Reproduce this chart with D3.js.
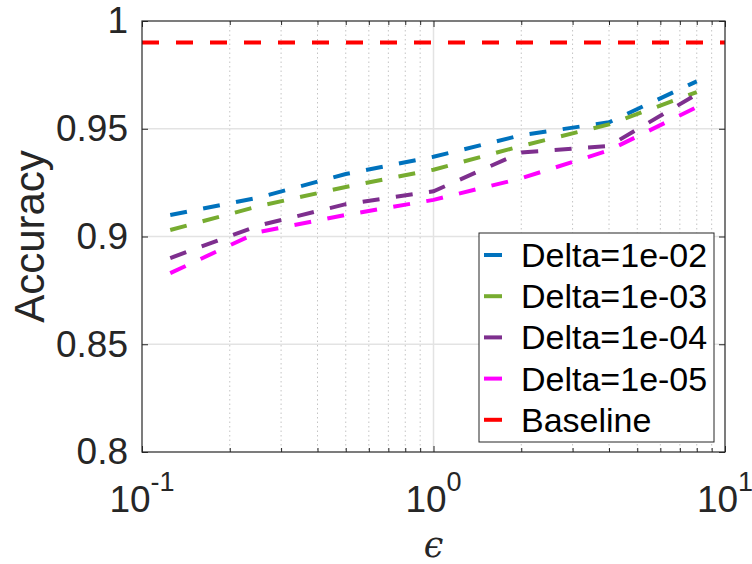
<!DOCTYPE html>
<html lang="en">
  <head>
    <meta charset="UTF-8" />
    <script src="https://d3js.org/d3.v7.min.js"></script>
    <title>Accuracy vs epsilon</title>
    <style>
      body { margin: 0; background: #fff; }
      svg { display: block; font-family: "Liberation Sans", Arial, sans-serif; }
    </style>
  </head>
  <body>
    <div id="chart"></div>
    <script>
      // data
      const epsilons = [0.125, 0.25, 0.5, 1, 2, 4, 8];
      const delta1e02 = [0.910, 0.918, 0.929, 0.937, 0.947, 0.953, 0.972];
      const delta1e03 = [0.903, 0.914, 0.923, 0.931, 0.942, 0.952, 0.967];
      const delta1e04 = [0.890, 0.905, 0.915, 0.921, 0.939, 0.942, 0.966];
      const delta1e05 = [0.883, 0.902, 0.910, 0.917, 0.927, 0.940, 0.960];
      const baseline = 0.99;
      const seriesNames = ["Delta=1e-02", "Delta=1e-03", "Delta=1e-04", "Delta=1e-05", "Baseline"];
      const yTicks = [0.8, 0.85, 0.9, 0.95, 1];
      const xMajor = [0.1, 1, 10];
      const xMajorLabels = [["10", "-1"], ["10", "0"], ["10", "1"]];
      const xMinor = [0.2, 0.3, 0.4, 0.5, 0.6, 0.7, 0.8, 0.9, 2, 3, 4, 5, 6, 7, 8, 9];

      const colors = ["#0072BD", "#77AC30", "#7E2F8E", "#FF00FF", "#FF0000"];
      const W = 752, H = 564;
      const plot = { left: 142, right: 725, top: 21, bottom: 452 };
      const axisColor = "#262626";

      const svg = d3.select("#chart").append("svg")
        .attr("width", W).attr("height", H);

      const x = d3.scaleLog().domain([0.1, 10]).range([plot.left, plot.right]);
      const y = d3.scaleLinear().domain([0.8, 1]).range([plot.bottom, plot.top]);

      // grid: dotted minor x, solid major
      svg.append("g").selectAll("line").data(xMinor).join("line")
        .attr("x1", d => x(d)).attr("x2", d => x(d))
        .attr("y1", plot.top).attr("y2", plot.bottom)
        .attr("stroke", "#c4c4c4").attr("stroke-width", 1)
        .attr("stroke-dasharray", "1.5 3");
      svg.append("g").selectAll("line").data([1]).join("line")
        .attr("x1", d => x(d)).attr("x2", d => x(d))
        .attr("y1", plot.top).attr("y2", plot.bottom)
        .attr("stroke", "#e3e3e3").attr("stroke-width", 1.5);
      svg.append("g").selectAll("line").data(yTicks.slice(1, -1)).join("line")
        .attr("x1", plot.left).attr("x2", plot.right)
        .attr("y1", d => y(d)).attr("y2", d => y(d))
        .attr("stroke", "#e3e3e3").attr("stroke-width", 1.5);

      // series lines
      const series = [delta1e02, delta1e03, delta1e04, delta1e05];
      const line = d3.line().x(d => x(d[0])).y(d => y(d[1]));
      series.forEach((vals, i) => {
        svg.append("path")
          .datum(epsilons.map((e, j) => [e, vals[j]]))
          .attr("d", line)
          .attr("fill", "none")
          .attr("stroke", colors[i])
          .attr("stroke-width", 4)
          .attr("stroke-dasharray", "17 16.5");
      });
      svg.append("path")
        .datum(x.domain().map(e => [e, baseline]))
        .attr("d", line)
        .attr("fill", "none")
        .attr("stroke", colors[4])
        .attr("stroke-width", 4)
        .attr("stroke-dasharray", "17 17");

      // axes (ticks inward on all four sides)
      const styleAxis = g => {
        g.select(".domain").remove();
        g.selectAll("line").attr("stroke", axisColor);
        g.selectAll("text").attr("fill", axisColor).attr("font-size", 37)
          .attr("font-family", "'Liberation Sans', Arial, sans-serif");
      };
      svg.append("g").attr("transform", `translate(${plot.left},0)`)
        .call(d3.axisLeft(y).tickValues(yTicks).tickFormat(d => String(d))
          .tickSizeInner(-6).tickSizeOuter(0).tickPadding(14))
        .call(styleAxis);
      svg.append("g").attr("transform", `translate(${plot.right},0)`)
        .call(d3.axisRight(y).tickValues(yTicks).tickFormat("").tickSizeInner(-6).tickSizeOuter(0))
        .call(styleAxis);
      [[d3.axisBottom, plot.bottom], [d3.axisTop, plot.top]].forEach(([ax, pos]) => {
        svg.append("g").attr("transform", `translate(0,${pos})`)
          .call(ax(x).tickValues(xMajor).tickFormat("").tickSizeInner(-6).tickSizeOuter(0))
          .call(styleAxis);
        svg.append("g").attr("transform", `translate(0,${pos})`)
          .call(ax(x).tickValues(xMinor).tickFormat("").tickSizeInner(-4).tickSizeOuter(0))
          .call(styleAxis);
      });
      svg.append("rect")
        .attr("x", plot.left).attr("y", plot.top)
        .attr("width", plot.right - plot.left).attr("height", plot.bottom - plot.top)
        .attr("fill", "none").attr("stroke", axisColor).attr("stroke-width", 1.2);

      // x tick labels with superscript exponents
      const xl = svg.append("g").selectAll("text").data(xMajor).join("text")
        .attr("x", d => x(d)).attr("y", 512)
        .attr("text-anchor", "middle")
        .attr("fill", axisColor).attr("font-size", 37);
      xl.append("tspan").text((d, i) => xMajorLabels[i][0]);
      xl.append("tspan").attr("dy", -21).attr("font-size", 27).text((d, i) => xMajorLabels[i][1]);

      // axis titles
      svg.append("text")
        .attr("transform", `translate(44,${(plot.top + plot.bottom) / 2}) rotate(-90)`)
        .attr("text-anchor", "middle")
        .attr("fill", axisColor).attr("font-size", 42)
        .text("Accuracy");
      svg.append("text")
        .attr("x", (plot.left + plot.right) / 2).attr("y", 557)
        .attr("text-anchor", "middle")
        .attr("fill", axisColor).attr("font-size", 35)
        .attr("font-family", "'DejaVu Serif', serif").attr("font-style", "italic")
        .text("ϵ");

      // legend
      const legend = { x: 479, y: 233, w: 235, h: 209, rowH: 41.2, first: 255 };
      const lg = svg.append("g");
      lg.append("rect")
        .attr("x", legend.x).attr("y", legend.y)
        .attr("width", legend.w).attr("height", legend.h)
        .attr("fill", "#fff").attr("stroke", axisColor).attr("stroke-width", 1);
      const rows = lg.selectAll("g").data(seriesNames).join("g")
        .attr("transform", (d, i) => `translate(0,${legend.first + i * legend.rowH})`);
      rows.append("line")
        .attr("x1", legend.x + 5).attr("x2", legend.x + 23)
        .attr("stroke", (d, i) => colors[i]).attr("stroke-width", 4);
      rows.append("text")
        .attr("x", legend.x + 42).attr("dy", "0.35em")
        .attr("fill", "#000").attr("font-size", 34)
        .text(d => d);
    </script>
  </body>
</html>
